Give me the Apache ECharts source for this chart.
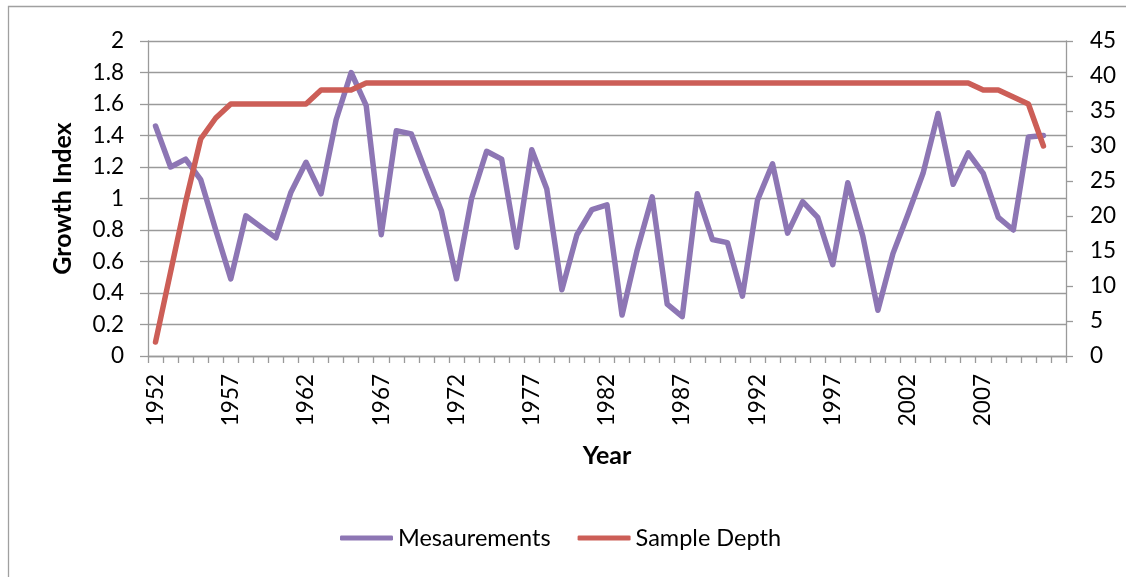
<!DOCTYPE html>
<html>
<head>
<meta charset="utf-8">
<script src="https://cdn.jsdelivr.net/npm/echarts@6/dist/echarts.min.js"></script>
<style>
html,body{margin:0;padding:0;background:#fff;}
#chart{width:1126px;height:577px;}
</style>
</head>
<body>
<div id="chart"></div>
<script>
var years = ['1952','1953','1954','1955','1956','1957','1958','1959','1960','1961',
  '1962','1963','1964','1965','1966','1967','1968','1969','1970','1971',
  '1972','1973','1974','1975','1976','1977','1978','1979','1980','1981',
  '1982','1983','1984','1985','1986','1987','1988','1989','1990','1991',
  '1992','1993','1994','1995','1996','1997','1998','1999','2000','2001',
  '2002','2003','2004','2005','2006','2007','2008','2009','2010','2011',''];

var measurements = [1.46,1.20,1.25,1.12,0.80,0.49,0.89,0.82,0.75,1.04,
  1.23,1.03,1.50,1.80,1.59,0.77,1.43,1.41,1.16,0.92,
  0.49,1.00,1.30,1.25,0.69,1.31,1.06,0.42,0.77,0.93,
  0.96,0.26,0.67,1.01,0.33,0.25,1.03,0.74,0.72,0.38,
  0.99,1.22,0.78,0.98,0.88,0.58,1.10,0.76,0.29,0.65,
  0.90,1.16,1.54,1.09,1.29,1.16,0.88,0.80,1.39,1.40,null];

var sampleDepth = [2,12,22,31,34,36,36,36,36,36,
  36,38,38,38,39,39,39,39,39,39,
  39,39,39,39,39,39,39,39,39,39,
  39,39,39,39,39,39,39,39,39,39,
  39,39,39,39,39,39,39,39,39,39,
  39,39,39,39,39,38,38,37,36,30,null];

var FONT = 'Lato';
var GRID = '#9a9a9a';

var chart = echarts.init(document.getElementById('chart'));
chart.setOption({
  animation: false,
  textStyle: {fontFamily: FONT, color: '#000'},
  graphic: [{
    type: 'rect',
    shape: {x: 8.5, y: 6.5, width: 1200, height: 700},
    style: {fill: 'none', stroke: '#a0a0a0', lineWidth: 1.3},
    silent: true
  }],
  grid: {left: 148, right: 60, top: 41, bottom: 221, containLabel: false},
  legend: {
    left: 335, top: 521,
    icon: 'roundRect',
    itemWidth: 53, itemHeight: 5, itemGap: 27,
    textStyle: {fontFamily: FONT, fontSize: 23.5, color: '#000'},
    data: ['Mesaurements', 'Sample Depth']
  },
  xAxis: {
    type: 'category',
    data: years,
    boundaryGap: true,
    name: 'Year',
    nameLocation: 'middle',
    nameGap: 87,
    nameTextStyle: {fontFamily: FONT, fontSize: 25, fontWeight: 'bold', color: '#000'},
    axisLine: {lineStyle: {color: GRID, width: 1.3}},
    axisTick: {show: true, interval: 0, length: 7, lineStyle: {color: GRID, width: 1.3}},
    axisLabel: {interval: 4, rotate: 90, margin: 18, fontFamily: FONT, fontSize: 22.5, color: '#000'},
    splitLine: {show: false}
  },
  yAxis: [{
    type: 'value',
    min: 0, max: 2, interval: 0.2,
    name: 'Growth Index',
    nameLocation: 'middle',
    nameRotate: 90,
    nameGap: 73,
    nameTextStyle: {fontFamily: FONT, fontSize: 25, fontWeight: 'bold', color: '#000'},
    axisLine: {show: true, lineStyle: {color: GRID, width: 1.3}},
    axisTick: {show: true, length: 8, lineStyle: {color: GRID, width: 1.3}},
    axisLabel: {margin: 24, fontFamily: FONT, fontSize: 22.5, color: '#000'},
    splitLine: {show: true, lineStyle: {color: GRID, width: 1.3}}
  }, {
    type: 'value',
    min: 0, max: 45, interval: 5,
    position: 'right',
    axisLine: {show: true, lineStyle: {color: GRID, width: 1.3}},
    axisTick: {show: true, length: 7, lineStyle: {color: GRID, width: 1.3}},
    axisLabel: {margin: 24, fontFamily: FONT, fontSize: 22.5, color: '#000'},
    splitLine: {show: false}
  }],
  series: [{
    name: 'Mesaurements',
    type: 'line',
    yAxisIndex: 0,
    data: measurements,
    symbol: 'none',
    color: '#8D76B4',
    lineStyle: {width: 5.5, color: '#8D76B4', join: 'round', cap: 'round'}
  }, {
    name: 'Sample Depth',
    type: 'line',
    yAxisIndex: 1,
    data: sampleDepth,
    symbol: 'none',
    color: '#CC5E57',
    lineStyle: {width: 5.5, color: '#CC5E57', join: 'round', cap: 'round'}
  }]
});
</script>
</body>
</html>
